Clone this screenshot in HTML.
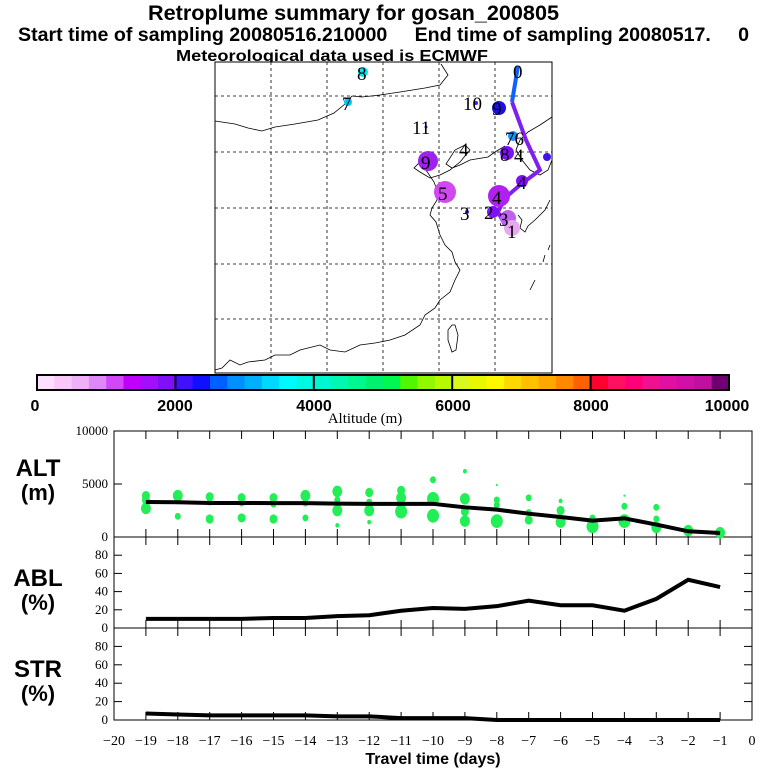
<!DOCTYPE html>
<html><head><meta charset="utf-8"><style>
body{margin:0;background:#fff}
svg text{font-family:"Liberation Sans",sans-serif}
svg text.serif, svg .serif text{font-family:"Liberation Serif",serif}
</style></head><body>
<svg id="c" width="768" height="768" viewBox="0 0 768 768" xmlns="http://www.w3.org/2000/svg">
<text x="148" y="20" textLength="411" lengthAdjust="spacingAndGlyphs" font-size="21" font-weight="bold">Retroplume summary for gosan_200805</text>
<text x="18" y="41" textLength="731" lengthAdjust="spacingAndGlyphs" font-size="19" font-weight="bold">Start time of sampling 20080516.210000&#160;&#160;&#160;&#160;&#160;End time of sampling 20080517.&#160;&#160;&#160;&#160;&#160;0</text>
<text x="176" y="61" textLength="312" lengthAdjust="spacingAndGlyphs" font-size="16" font-weight="bold">Meteorological data used is ECMWF</text>
<g id="map">
<rect x="215" y="62" width="337" height="311" fill="#fff" stroke="#000"/>
<g stroke="#000" stroke-dasharray="3,3" stroke-width="0.8">
<line x1="271" y1="62" x2="271" y2="373"/><line x1="327" y1="62" x2="327" y2="373"/><line x1="383" y1="62" x2="383" y2="373"/><line x1="439" y1="62" x2="439" y2="373"/><line x1="495" y1="62" x2="495" y2="373"/>
<line x1="215" y1="96" x2="552" y2="96"/><line x1="215" y1="152" x2="552" y2="152"/><line x1="215" y1="208" x2="552" y2="208"/><line x1="215" y1="264" x2="552" y2="264"/><line x1="215" y1="319" x2="552" y2="319"/>
</g>
<g fill="none" stroke="#000" stroke-width="0.8">
<path d="M215,121 L235,124 L248,128 L262,131 L275,127 L295,124 L318,120 L334,113 L345,104 L352,96 L362,97 L380,95 L400,92 L425,88 L440,85 L448,75 L441,64"/>
<path d="M552,117 L540,125 L528,132 L520,140 L516,150 L522,160 L530,170 L540,175 L548,170 L552,160"/>
<path d="M505,146 L495,152 L488,157 L470,160 L460,165 L452,168 L446,164 L455,150 L465,145 L470,150 L460,162 L450,170 L440,175 L430,178 L420,172 L414,168 L420,162 L426,170 L434,182 L437,190 L437,200 L432,208 L430,215 L436,222 L440,235 L445,245 L452,252 L455,262 L460,270 L455,280 L450,292 L440,300 L435,308 L425,315 L420,325 L405,335 L390,340 L375,343 L360,345 L345,352 L330,350 L320,345 L300,350 L290,355 L275,355 L265,360 L248,362 L240,365 L230,360 L222,368 L215,370"/>
<path d="M452,325 L448,330 L448,340 L452,352 L456,350 L458,335 L455,325 Z"/>
<path d="M518,215 L522,220 L520,228 L525,232 L528,226 L535,220 L540,215 L545,210 L550,200"/>
<path d="M530,290 L535,280 M543,262 L545,255 M550,245 L548,250"/>
</g>
<g id="traj">
<polyline points="518,66 512,102" stroke="#1060ff" stroke-width="4" fill="none"/>
<polyline points="512,102 526,140 540,170 520,185 505,198 498,212 505,225" stroke="#8020f0" stroke-width="4" fill="none"/>
<circle cx="363" cy="72" r="5" fill="#00e8f0"/><circle cx="348" cy="102" r="4" fill="#00c8f0"/>
<circle cx="476" cy="103" r="2" fill="#4020ff"/><circle cx="499" cy="108" r="7" fill="#2010e0"/>
<circle cx="426" cy="127" r="1.5" fill="#4020ff"/><circle cx="513" cy="136" r="5" fill="#2090f0"/>
<circle cx="507" cy="153" r="7" fill="#8010f8"/><circle cx="428" cy="161" r="10" fill="#a020f0"/>
<circle cx="445" cy="192" r="11" fill="#d048f0"/><circle cx="499" cy="196" r="11" fill="#b020f0"/>
<circle cx="522" cy="181" r="6" fill="#8010f8"/><circle cx="493" cy="212" r="6" fill="#8010f8"/>
<circle cx="508" cy="218" r="8" fill="#c060f0"/><circle cx="512" cy="228" r="8" fill="#e8a8f0"/>
<circle cx="467" cy="212" r="2" fill="#4020ff"/><circle cx="547" cy="157" r="4" fill="#4010f0"/>
</g>
<g class="serif" font-size="19" fill="#000">
<text x="513" y="78">0</text><text x="357" y="80">8</text><text x="342" y="110">7</text><text x="463" y="110">10</text><text x="492" y="115">9</text>
<text x="412" y="134">11</text><text x="459" y="156">4</text><text x="505" y="145">76</text><text x="500" y="161">8</text><text x="514" y="162">4</text>
<text x="421" y="169">9</text><text x="438" y="200">5</text><text x="517" y="189">4</text><text x="492" y="204">4</text><text x="460" y="220">3</text>
<text x="484" y="219">2</text><text x="499" y="226">3</text><text x="507" y="238">1</text>
</g>
</g>
<g id="cbar"></g>
<text x="35" y="411" text-anchor="middle" font-size="16" font-weight="bold">0</text>
<text x="175" y="411" text-anchor="middle" font-size="16" font-weight="bold">2000</text>
<text x="314" y="411" text-anchor="middle" font-size="16" font-weight="bold">4000</text>
<text x="453" y="411" text-anchor="middle" font-size="16" font-weight="bold">6000</text>
<text x="591" y="411" text-anchor="middle" font-size="16" font-weight="bold">8000</text>
<text x="727" y="411" text-anchor="middle" font-size="16" font-weight="bold">10000</text>
<text x="365" y="423" text-anchor="middle" font-size="15" class="serif">Altitude (m)</text>
<g id="panels" class="serif"></g>
<text x="38" y="476" text-anchor="middle" font-size="24" font-weight="bold">ALT</text>
<text x="38" y="500" text-anchor="middle" font-size="22" font-weight="bold">(m)</text>
<text x="38" y="586" text-anchor="middle" font-size="24" font-weight="bold">ABL</text>
<text x="38" y="610" text-anchor="middle" font-size="22" font-weight="bold">(%)</text>
<text x="38" y="677" text-anchor="middle" font-size="24" font-weight="bold">STR</text>
<text x="38" y="701" text-anchor="middle" font-size="22" font-weight="bold">(%)</text>
<text x="433" y="764" text-anchor="middle" font-size="16" font-weight="bold">Travel time (days)</text>
</svg>
<script>
const cbarColors=["#fde0fd","#f8c8f8","#f0b0f8","#e088f8","#d048f8","#c000f8","#a010f8","#8010f8","#4010ff","#1010ff","#0060ff","#0090ff","#00b0ff","#00d8ff","#00f8ff","#00f8e0","#00f8d0","#00f8b0","#00f890","#00f070","#00f850","#50f800","#90f800","#b8f800","#d8f820","#e8f800","#fff800","#ffd800","#ffc000","#ffa800","#ff8800","#ff6000","#ff0030","#ff1060","#ff0078","#f01090","#e010a0","#d010a8","#c010a0","#700070"];
const days=[-19,-18,-17,-16,-15,-14,-13,-12,-11,-10,-9,-8,-7,-6,-5,-4,-3,-2,-1];
const altMean=[3300,3280,3210,3210,3200,3200,3150,3130,3130,3130,2800,2580,2200,1890,1550,1760,1170,540,380];
const ablPct=[10,10,10,10,11,11,13,14,19,22,21,24,30,25,25,19,32,53,45];
const strPct=[7,6,5,5,5,5,4,4,2,2,2,0,0,0,0,0,0,0,0];
const dotDay=[-19,-19,-19,-18,-18,-18,-17,-17,-17,-16,-16,-16,-15,-15,-15,-14,-14,-14,-13,-13,-13,-13,-12,-12,-12,-12,-11,-11,-11,-10,-10,-10,-9,-9,-9,-9,-8,-8,-8,-8,-7,-7,-7,-6,-6,-6,-5,-5,-4,-4,-4,-3,-3,-3,-2,-1];
const dotAlt=[3900,3500,2700,3900,3400,1950,3800,3300,1700,3700,3200,1800,3700,3100,1700,3900,3200,1800,4300,3500,2500,1100,4200,3300,2500,1400,4400,3700,2400,5400,3600,2000,6200,3600,2400,1500,4900,3500,3000,1500,3700,2300,1600,3400,2500,1400,1800,1000,3900,2900,1500,2800,1700,900,600,400];
const dotR=[4,4,5,5,3,3,4,3,4,4,3,4,4,3,4,5,3,3,5,3,5,2,4,3,5,2,4,5,6,3,6,6,2,5,4,5,1,3,3,6,3,3,4,2,4,5,3,6,1,3,6,3,3,5,5,5];
const xTicks=[-20,-19,-18,-17,-16,-15,-14,-13,-12,-11,-10,-9,-8,-7,-6,-5,-4,-3,-2,-1,0];
const pctTicks=[0,20,40,60,80];
const altTicks=[0,5000,10000];

const NS="http://www.w3.org/2000/svg";
function mk(tag,attrs,parent){const e=document.createElementNS(NS,tag);for(const k in attrs)e.setAttribute(k,attrs[k]);parent.appendChild(e);return e;}
const X0=114,X1=752;
const xs=d=>X0+(d+20)*(X1-X0)/20;
const cb=document.getElementById('cbar');
const cbx=d=>37+d/250*((729-37)/40);
cbarColors.forEach((c,i)=>{const r=mk('rect',{x:cbx(i*250),y:375,width:cbx(250)-cbx(0)+0.5,height:15,fill:c},cb);

});
mk('rect',{x:37,y:375,width:692,height:15,fill:'none',stroke:'#000','stroke-width':2},cb);
[2000,4000,6000,8000].forEach(v=>{const l=mk('line',{x1:cbx(v),x2:cbx(v),y1:375,y2:390,stroke:'#000','stroke-width':2},cb);

});

const P=document.getElementById('panels');
const panels=[{name:'alt',top:431,bot:537,max:10000,ticks:altTicks,fs:13},{name:'abl',top:537,bot:628,max:100,ticks:pctTicks,fs:13},{name:'str',top:628,bot:720,max:100,ticks:pctTicks,fs:13}];
panels.forEach(p=>{
 const g=mk('g',{},P);
 
 
 p.y=v=>p.bot-v/p.max*(p.bot-p.top);
 mk('rect',{x:X0,y:p.top,width:X1-X0,height:p.bot-p.top,fill:'none',stroke:'#000','stroke-width':1},g);
 xTicks.forEach(d=>{mk('line',{x1:xs(d),x2:xs(d),y1:p.top,y2:p.top+8,stroke:'#000'},g);mk('line',{x1:xs(d),x2:xs(d),y1:p.bot,y2:p.bot-8,stroke:'#000'},g);});
 p.ticks.forEach(v=>{mk('line',{x1:X0,x2:X0+8,y1:p.y(v),y2:p.y(v),stroke:'#000'},g);mk('line',{x1:X1,x2:X1-8,y1:p.y(v),y2:p.y(v),stroke:'#000'},g);
  const t=mk('text',{x:X0-6,y:p.y(v)+4,'text-anchor':'end','font-size':p.fs},g);t.textContent=v;
  
  });
});
const [pa,pb,pc]=panels;
dotDay.forEach((d,i)=>{const c=mk('ellipse',{cx:xs(d),cy:pa.y(dotAlt[i]),rx:dotR[i],ry:dotR[i]*1.15,fill:'#22ee55'},P);

});
function line(p,vals,name){const l=mk('polyline',{points:days.map((d,i)=>xs(d)+','+p.y(vals[i])).join(' '),fill:'none',stroke:'#000','stroke-width':4},P);

}
line(pa,altMean,'alt-mean-line');line(pb,ablPct,'abl-line');line(pc,strPct,'str-line');
xTicks.forEach(d=>{const t=mk('text',{x:xs(d),y:745,'text-anchor':'middle','font-size':14},P);t.textContent=d===0?'0':'\u2212'+Math.abs(d);

});
</script>
</body></html>
